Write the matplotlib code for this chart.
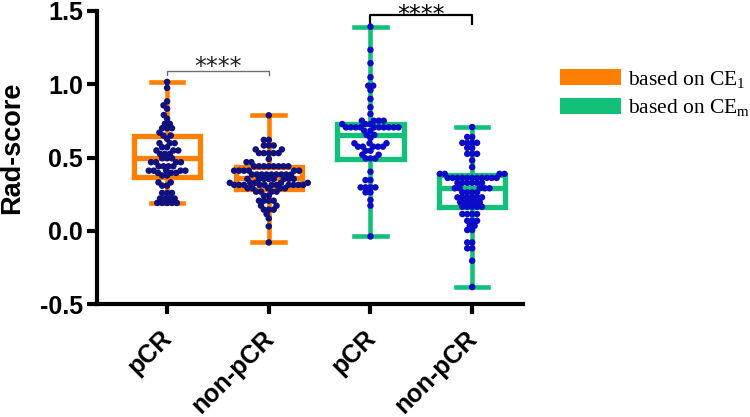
import numpy as np
import matplotlib
matplotlib.use("Agg")
import matplotlib.pyplot as plt
from matplotlib.patches import Rectangle
from matplotlib.transforms import ScaledTranslation


# =========================================================
# DATA
# =========================================================

GROUPS = ["pCR", "non-pCR", "pCR", "non-pCR"]

ce1_pcr = [1.016, 0.975, 0.883, 0.856, 0.833, 0.79, 0.765, 0.73, 0.73,
           0.70, 0.70, 0.70, 0.67, 0.65, 0.65, 0.628, 0.598, 0.598, 0.598,
           0.57, 0.57, 0.548, 0.548, 0.548, 0.525, 0.525, 0.525, 0.495,
           0.495, 0.495, 0.468, 0.468, 0.468, 0.468, 0.44, 0.44, 0.44, 0.44,
           0.41, 0.41, 0.41, 0.41, 0.41, 0.395, 0.395, 0.395, 0.377, 0.377,
           0.33, 0.33, 0.308, 0.308, 0.258, 0.258, 0.258, 0.22, 0.22, 0.22,
           0.22, 0.19, 0.19, 0.19, 0.19, 0.19]

ce1_non = [0.788, 0.62, 0.62, 0.582, 0.582, 0.582, 0.555, 0.555, 0.53, 0.53,
           0.53, 0.53, 0.53, 0.49, 0.468, 0.468,
           0.44, 0.44, 0.44, 0.44, 0.44, 0.44, 0.44, 0.44,
           0.41, 0.41, 0.41, 0.41, 0.41, 0.41,
           0.384, 0.384, 0.384, 0.384, 0.384, 0.384, 0.384, 0.384, 0.384,
           0.354, 0.354, 0.354, 0.354, 0.354, 0.354, 0.354, 0.354,
           0.327, 0.327, 0.327, 0.327, 0.327,
           0.313, 0.313, 0.313, 0.313, 0.313, 0.313, 0.313, 0.313, 0.313,
           0.313, 0.313,
           0.29, 0.29, 0.29, 0.29, 0.29, 0.267, 0.267, 0.267, 0.267,
           0.24, 0.24, 0.205, 0.205, 0.205, 0.205, 0.171, 0.171,
           0.144, 0.144, 0.144, 0.114, 0.084, 0.03, -0.08]

cem_pcr = [1.393, 1.235, 1.144, 1.048, 0.99, 0.99, 0.96, 0.90, 0.843, 0.797,
           0.751, 0.751, 0.751, 0.751, 0.728, 0.728, 0.728,
           0.706, 0.706, 0.706, 0.706, 0.706, 0.706, 0.706, 0.706, 0.706,
           0.706, 0.683, 0.683, 0.654, 0.654, 0.633, 0.597, 0.597, 0.597,
           0.574, 0.574, 0.574, 0.574, 0.574, 0.546, 0.546, 0.519, 0.519,
           0.494, 0.494, 0.494, 0.403, 0.346, 0.346, 0.296, 0.296, 0.296,
           0.296, 0.262, 0.262, 0.21, 0.171, -0.039]

cem_non = [0.708, 0.64, 0.64, 0.60, 0.60, 0.60, 0.60, 0.566, 0.566,
           0.525, 0.525, 0.525, 0.48, 0.434, 0.388, 0.388, 0.388, 0.388,
           0.361, 0.361, 0.361, 0.361, 0.361, 0.361, 0.361, 0.361, 0.361,
           0.361, 0.361,
           0.327, 0.327, 0.327, 0.327, 0.327, 0.327,
           0.29, 0.29, 0.29, 0.29, 0.29, 0.262, 0.262, 0.262, 0.262,
           0.228, 0.228, 0.228, 0.228, 0.228, 0.228,
           0.194, 0.194, 0.194, 0.194, 0.194, 0.164, 0.164, 0.164, 0.164,
           0.164, 0.114, 0.114, 0.114, 0.114, 0.068, 0.068, 0.068,
           0.034, 0.034, 0.005, 0.005, -0.08, -0.08, -0.12, -0.12,
           -0.205, -0.384]

SERIES = [ce1_pcr, ce1_non, cem_pcr, cem_non]

# box statistics as drawn
BOX_Q1 = [0.368, 0.288, 0.493, 0.164]
BOX_MED = [0.495, 0.36, 0.651, 0.29]
BOX_Q3 = [0.646, 0.438, 0.731, 0.381]
BOX_LO = [0.187, -0.08, -0.039, -0.384]
BOX_HI = [1.016, 0.788, 1.393, 0.708]

LEGEND_LABELS = [r"based on $\mathregular{CE_1}$", r"based on $\mathregular{CE_m}$"]

ORANGE = "#FF8000"
GREEN = "#12C07A"
BOX_COLORS = [ORANGE, ORANGE, GREEN, GREEN]
DOT_COLORS = ["#10107E", "#10107E", "#0B0BC8", "#0B0BC8"]


def swarm_offsets(y_px, d):
    """simple beeswarm in pixel space, returns x offsets in px"""
    order = np.argsort(y_px, kind="stable")
    xs = np.zeros(len(y_px))
    placed = []
    for i in order:
        y = y_px[i]
        cands = [0.0]
        intervals = []
        for px, py in placed:
            dy = abs(py - y)
            if dy < d:
                dx = np.sqrt(d * d - dy * dy)
                intervals.append((px - dx, px + dx))
                cands += [px - dx, px + dx]
        cands = sorted(cands, key=abs)
        for c in cands:
            if all(not (lo + 1e-6 < c < hi - 1e-6) for lo, hi in intervals):
                xs[i] = c
                break
        placed.append((xs[i], y))
    return xs


def main():
    plt.rcParams["axes.unicode_minus"] = False
    plt.rcParams["font.family"] = ["Liberation Sans", "DejaVu Sans"]

    W, H = 750, 417
    fig = plt.figure(figsize=(W / 100, H / 100), dpi=100)
    ax = fig.add_axes([97 / W, 1 - 304 / H, (523 - 97) / W, (304 - 11) / H])
    ax.set_xlim(-0.689, 3.5)
    ax.set_ylim(-0.5, 1.5)

    # ---- boxes
    stats = []
    for i in range(4):
        stats.append(dict(med=BOX_MED[i], q1=BOX_Q1[i], q3=BOX_Q3[i],
                          whislo=BOX_LO[i], whishi=BOX_HI[i], fliers=[]))
    bp = ax.bxp(stats, positions=range(4), widths=0.65, capwidths=0.32,
                showfliers=False)
    for i, c in enumerate(BOX_COLORS):
        bp["boxes"][i].set(color=c, linewidth=3.8, solid_joinstyle="miter")
        bp["medians"][i].set(color=c, linewidth=3.8)
        for j in (2 * i, 2 * i + 1):
            bp["whiskers"][j].set(color=c, linewidth=3.3)
            bp["caps"][j].set(color=c, linewidth=3.3)

    # ---- swarm points
    px_per_x = ax.transData.transform((1, 0))[0] - ax.transData.transform((0, 0))[0]
    for i, vals in enumerate(SERIES):
        vals = np.asarray(vals, dtype=float)
        y_px = ax.transData.transform(np.column_stack([np.zeros_like(vals), vals]))[:, 1]
        off = swarm_offsets(y_px, 4.9)
        ax.scatter(i + off / px_per_x, vals, s=22, color=DOT_COLORS[i],
                   edgecolors="none", zorder=4, clip_on=False)

    # ---- significance brackets
    ax.plot([0, 0, 1, 1], [1.062, 1.092, 1.092, 1.062], color="#6E6E6E",
            lw=1.0, clip_on=False)
    ax.text(0.5, 1.068, "****", ha="center", va="baseline", fontsize=17,
            family="DejaVu Sans", color="#222222", clip_on=False)
    ax.plot([2, 2, 3, 3], [1.413, 1.474, 1.474, 1.413], color="black",
            lw=1.6, clip_on=False)
    ax.text(2.5, 1.427, "****", ha="center", va="baseline", fontsize=17,
            family="DejaVu Sans", color="black", clip_on=False)

    # ---- axes styling
    for side in ("top", "right"):
        ax.spines[side].set_visible(False)
    for side in ("left", "bottom"):
        ax.spines[side].set_linewidth(3)
    ax.tick_params(direction="out", length=7, width=3, pad=3)
    ax.set_yticks([-0.5, 0.0, 0.5, 1.0, 1.5])
    ax.set_yticklabels(["-0.5", "0.0", "0.5", "1.0", "1.5"],
                       fontsize=18, fontweight="bold")
    ax.set_xticks(range(4))
    ax.set_xticklabels(GROUPS, rotation=45, ha="right", va="top",
                       rotation_mode="anchor", fontsize=18, fontweight="bold")
    ax.tick_params(axis="x", pad=6)
    shift = ScaledTranslation(-7 / 100, -4 / 100, fig.dpi_scale_trans)
    for lab in ax.get_xticklabels():
        lab.set_transform(lab.get_transform() + shift)

    fig.text(12 / W, 1 - 148 / H, "Rad-score", rotation=90, ha="center",
             va="center", fontsize=19.5, fontweight="bold")

    # ---- legend
    for k, (lab, c) in enumerate(zip(LEGEND_LABELS, [ORANGE, GREEN])):
        top = 69 + k * 29
        fig.add_artist(Rectangle((560 / W, 1 - (top + 16) / H), 61 / W, 16 / H,
                                 transform=fig.transFigure, color=c, lw=0))
        fig.text(628 / W, 1 - (top + 15.5) / H, lab, family="Liberation Serif",
                 fontsize=15.5, va="baseline", ha="left")

    fig.savefig("out.png", dpi=100)
    plt.close(fig)


if __name__ == "__main__":
    main()
